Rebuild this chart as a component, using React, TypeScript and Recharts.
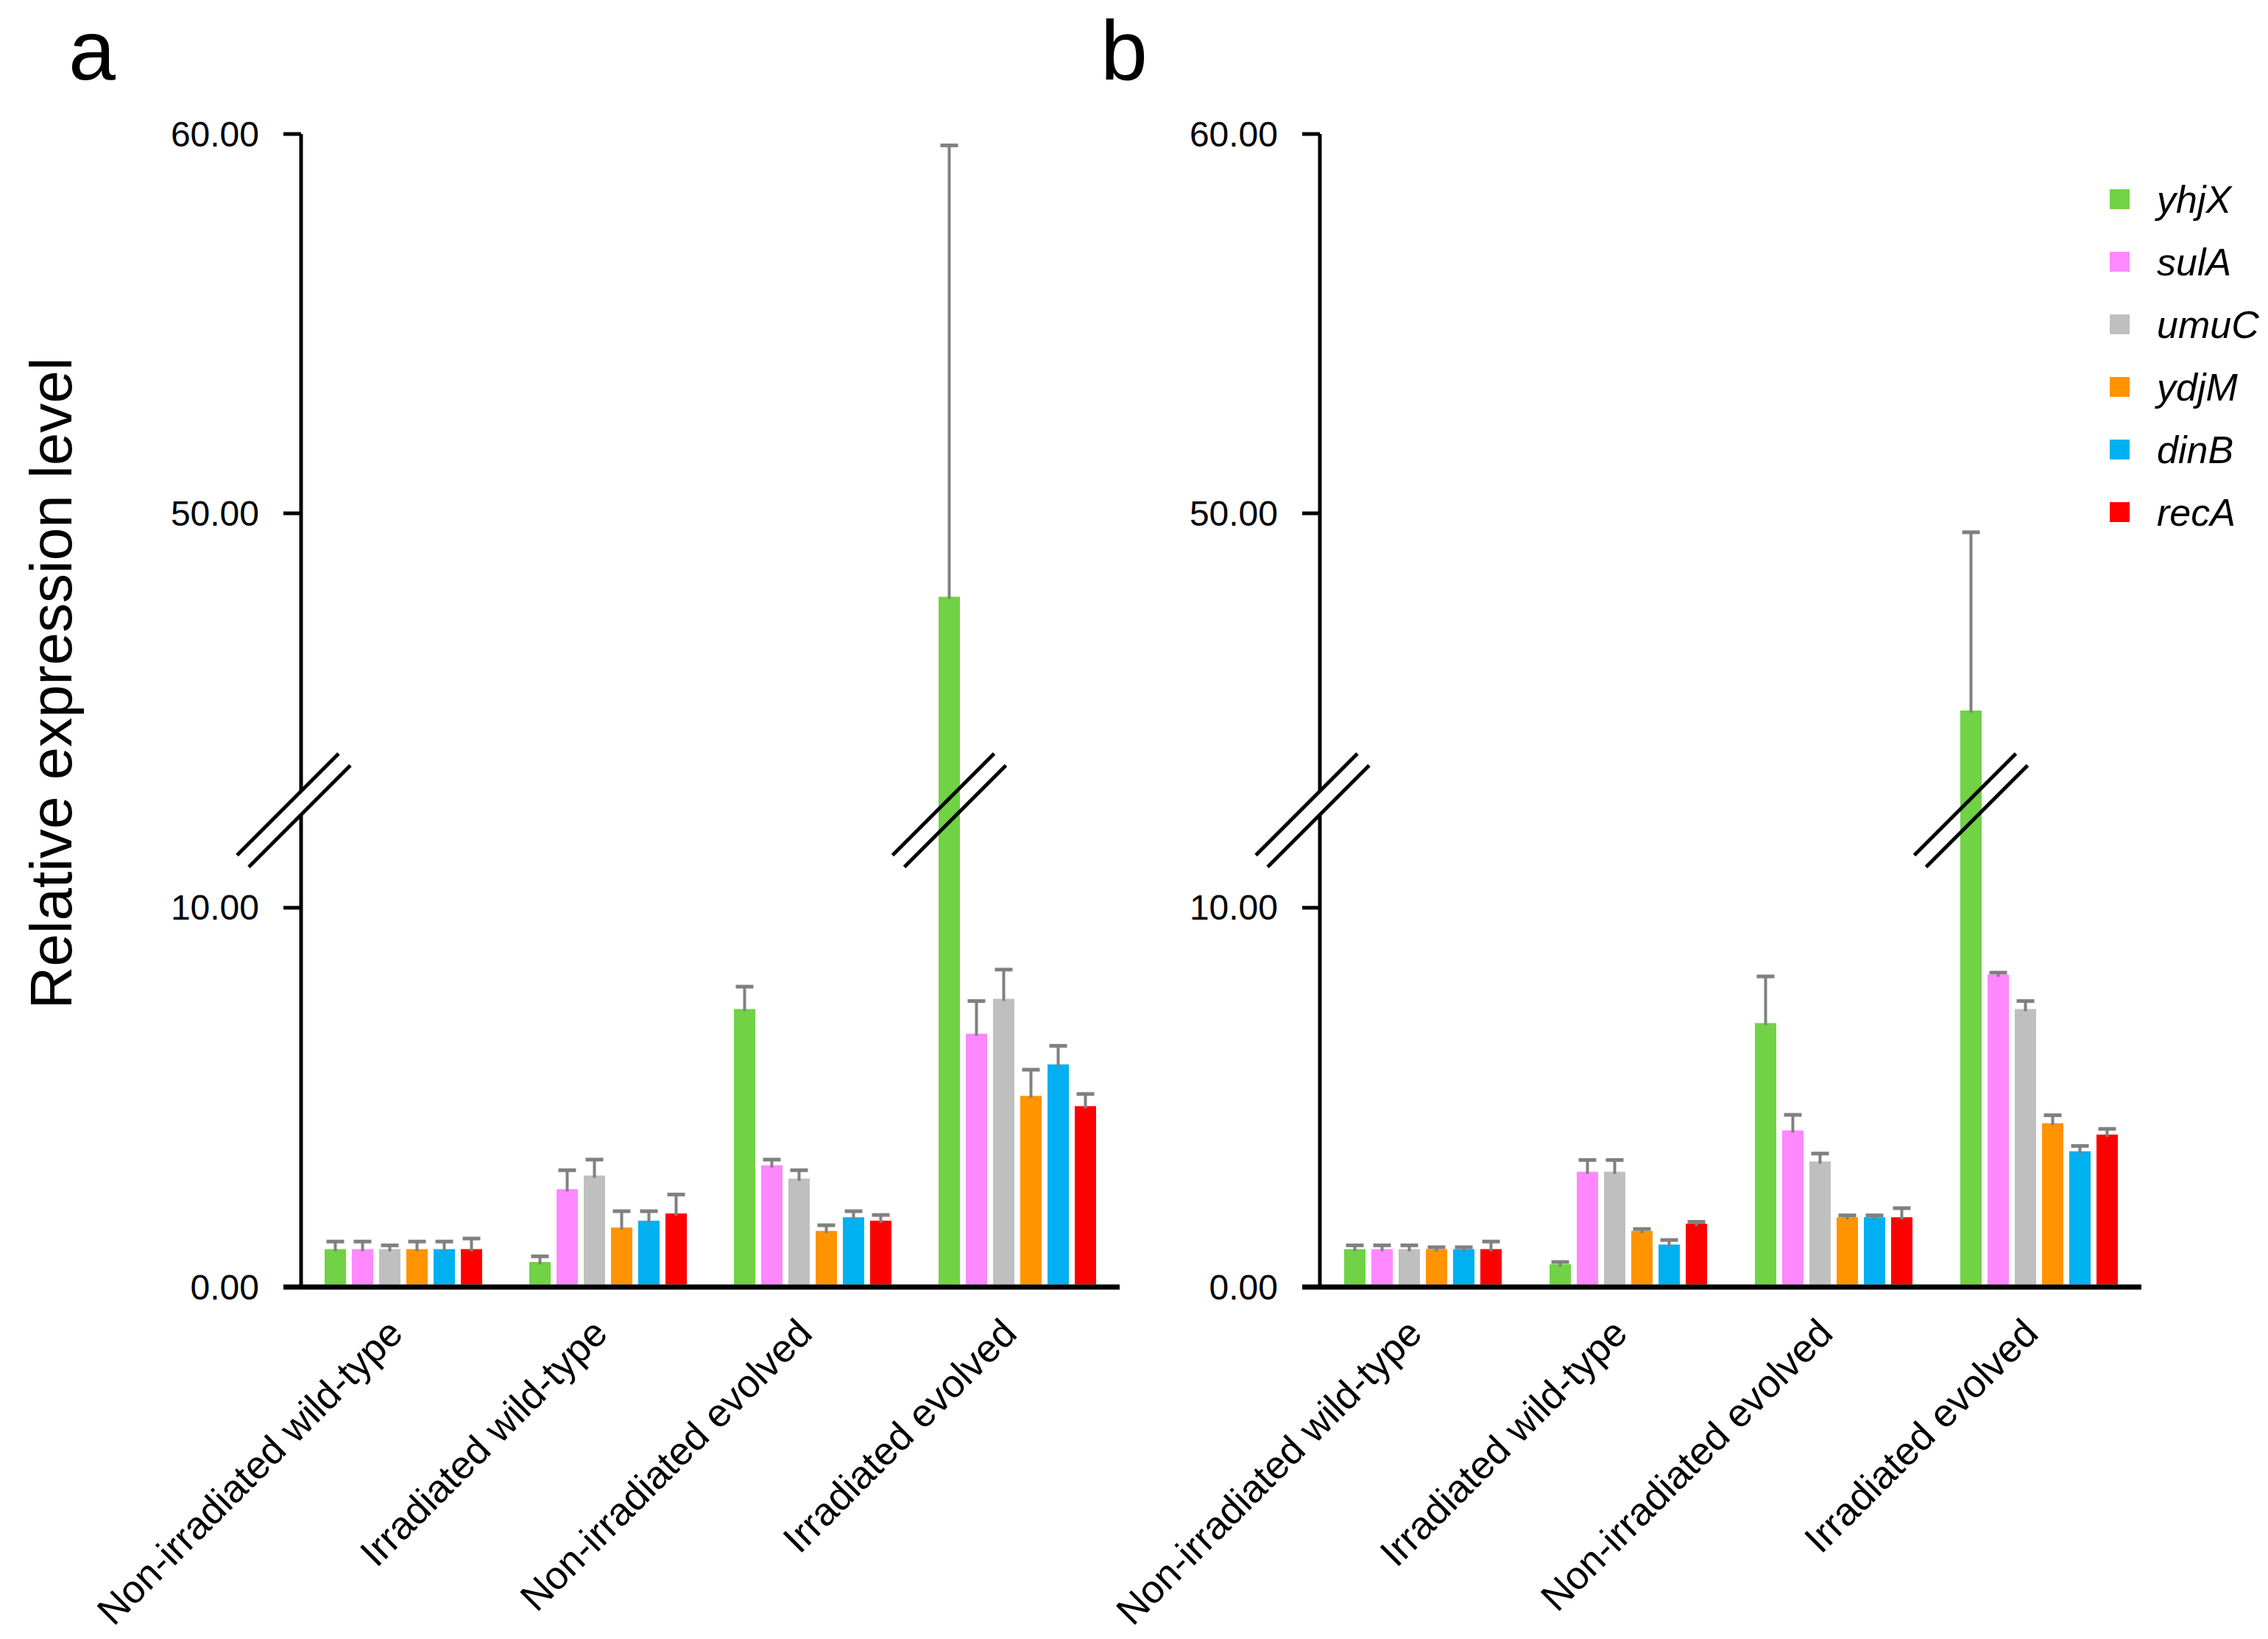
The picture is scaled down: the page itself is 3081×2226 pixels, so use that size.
import React from 'react';
import { BarChart, Bar, XAxis, YAxis, Legend } from 'recharts';

const GROUPS = ['Non-irradiated wild-type', 'Irradiated wild-type', 'Non-irradiated evolved', 'Irradiated evolved'];
const GENES = ['yhjX', 'sulA', 'umuC', 'ydjM', 'dinB', 'recA'];
const GENE_COLORS = ['#70D244', '#FF88FF', '#BFBFBF', '#FF9400', '#00B0F0', '#FF0000'];
const Y_TICKS = [0, 10, 50, 60];
const PANEL_LETTERS = ['a', 'b'];

// panel a – mean per group, then upper error
const A_YHJX = [1.0, 0.66, 7.33, 47.8];
const A_YHJX_ERR = [0.2, 0.15, 0.59, 11.9];
const A_SULA = [1.0, 2.58, 3.21, 6.68];
const A_SULA_ERR = [0.2, 0.5, 0.15, 0.86];
const A_UMUC = [1.0, 2.94, 2.86, 7.6];
const A_UMUC_ERR = [0.1, 0.42, 0.22, 0.77];
const A_YDJM = [1.0, 1.57, 1.48, 5.04];
const A_YDJM_ERR = [0.2, 0.43, 0.15, 0.69];
const A_DINB = [1.0, 1.75, 1.84, 5.87];
const A_DINB_ERR = [0.2, 0.25, 0.16, 0.49];
const A_RECA = [1.0, 1.94, 1.75, 4.77];
const A_RECA_ERR = [0.28, 0.5, 0.15, 0.32];

// panel b
const B_YHJX = [1.0, 0.6, 6.96, 44.8];
const B_YHJX_ERR = [0.1, 0.06, 1.23, 4.7];
const B_SULA = [1.0, 3.04, 4.13, 8.24];
const B_SULA_ERR = [0.1, 0.31, 0.41, 0.05];
const B_UMUC = [1.0, 3.04, 3.31, 7.33];
const B_UMUC_ERR = [0.1, 0.31, 0.21, 0.21];
const B_YDJM = [1.0, 1.48, 1.84, 4.32];
const B_YDJM_ERR = [0.05, 0.05, 0.05, 0.21];
const B_DINB = [1.0, 1.12, 1.84, 3.58];
const B_DINB_ERR = [0.05, 0.12, 0.05, 0.14];
const B_RECA = [1.0, 1.67, 1.84, 4.02];
const B_RECA_ERR = [0.2, 0.05, 0.24, 0.15];

const FONT = 'Arial, "Liberation Sans", sans-serif';
const ERR_COLOR = '#808080';

// broken axis: lower part 0..LOW_CUT, upper part HIGH_CUT..60, same unit size
const LOW_CUT = 12.57;
const HIGH_CUT = 42.17;
const toAxis = (v: number) => {
    if (v <= LOW_CUT) return v;
    if (v >= HIGH_CUT) return LOW_CUT + (v - HIGH_CUT);
    return LOW_CUT;
};
const BREAK_U = LOW_CUT;
const AXIS_MAX = toAxis(60);

const buildRows = (means: number[][], errs: number[][]) =>
    GROUPS.map((group, i) => {
        const row: any = { group };
        GENES.forEach((gene, g) => {
            row[gene] = toAxis(means[g][i]);
            row[gene + '_v'] = means[g][i];
            row[gene + '_e'] = errs[g][i];
        });
        return row;
    });

const rowsA = buildRows(
    [A_YHJX, A_SULA, A_UMUC, A_YDJM, A_DINB, A_RECA],
    [A_YHJX_ERR, A_SULA_ERR, A_UMUC_ERR, A_YDJM_ERR, A_DINB_ERR, A_RECA_ERR]
);
const rowsB = buildRows(
    [B_YHJX, B_SULA, B_UMUC, B_YDJM, B_DINB, B_RECA],
    [B_YHJX_ERR, B_SULA_ERR, B_UMUC_ERR, B_YDJM_ERR, B_DINB_ERR, B_RECA_ERR]
);

const BreakMark = ({ cx, cy, blank }: any) => {
    const d = 69;
    const a = { x: cx - 8, y: cy - 8 };
    const b = { x: cx + 8, y: cy + 8 };
    return (
        <g>
            {blank && (
                <polygon
                    points={`${a.x - d},${a.y + d} ${a.x + d},${a.y - d} ${b.x + d},${b.y - d} ${b.x - d},${b.y + d}`}
                    fill="#fff"
                />
            )}
            <line x1={a.x - d} y1={a.y + d} x2={a.x + d} y2={a.y - d} stroke="#000" strokeWidth={5} />
            <line x1={b.x - d} y1={b.y + d} x2={b.x + d} y2={b.y - d} stroke="#000" strokeWidth={5} />
        </g>
    );
};

const makeBarShape = (gene: string) => (p: any) => {
    const { x, y, width, height, fill, payload } = p;
    const v = payload[gene + '_v'];
    const e = payload[gene + '_e'];
    const uv = toAxis(v);
    const k = height / uv;
    const errPx = (toAxis(v + e) - uv) * k;
    const cx = x + width / 2;
    const top = y - errPx;
    return (
        <g>
            <rect x={x} y={y} width={width} height={Math.max(0, height - 3.5)} fill={fill} />
            <line x1={cx} x2={cx} y1={y + 3} y2={top} stroke={ERR_COLOR} strokeWidth={4} />
            <line x1={cx - 12} x2={cx + 12} y1={top} y2={top} stroke={ERR_COLOR} strokeWidth={5} />
            {uv > BREAK_U && <BreakMark cx={cx} cy={y + height - BREAK_U * k} />}
        </g>
    );
};

const Y_TICK_POS = Y_TICKS.map(toAxis);

const YTick = (p: any) => {
    const { x, y, payload } = p;
    if (Math.abs(payload.value - BREAK_U) < 1e-6) return <BreakMark cx={x - 10} cy={y} blank />;
    const idx = Y_TICK_POS.findIndex((t) => Math.abs(t - payload.value) < 1e-6);
    const label = Y_TICKS[idx];
    return (
        <g>
            <line x1={x - 24} x2={x} y1={y} y2={y} stroke="#000" strokeWidth={label === 0 ? 7 : 5} />
            <text x={x - 57} y={y} textAnchor="end" dominantBaseline="central" fontSize={48} fontFamily={FONT} fill="#000">
                {label.toFixed(2)}
            </text>
        </g>
    );
};

const XTick = (p: any) => {
    const { x, y, payload } = p;
    const ax = x + 2;
    const ay = y + 66;
    return (
        <text
            x={ax}
            y={ay}
            transform={`rotate(-45 ${ax} ${ay})`}
            textAnchor="end"
            fontSize={53}
            fontFamily={FONT}
            fill="#000"
        >
            {payload.value}
        </text>
    );
};

const AxisTitle = ({ viewBox }: any) => {
    const tx = viewBox.x + 69;
    const ty = viewBox.y + viewBox.height / 2 - 37;
    return (
        <text
            x={tx}
            y={ty}
            transform={`rotate(-90 ${tx} ${ty})`}
            textAnchor="middle"
            dominantBaseline="central"
            fontSize={80}
            fontFamily={FONT}
            fill="#000"
        >
            Relative expression level
        </text>
    );
};

const GeneLegend = ({ payload }: any) => {
    const items = [...(payload || [])].sort((p, q) => GENES.indexOf(p.value) - GENES.indexOf(q.value));
    return (
        <div>
            {items.map((item: any) => (
                <div key={item.value} style={{ display: 'flex', alignItems: 'center', height: 85 }}>
                    <span style={{ width: 27, height: 27, background: item.color, marginRight: 37, flex: 'none' }} />
                    <span style={{ fontStyle: 'italic', fontSize: 52, fontFamily: FONT, color: '#000', lineHeight: 1 }}>
                        {item.value}
                    </span>
                </div>
            ))}
        </div>
    );
};

const Panel = ({ rows, width, right, withTitle, legendLeft }: any) => (
    <BarChart
        width={width}
        height={2226}
        data={rows}
        margin={{ top: 182, right, bottom: 0, left: 0 }}
        barSize={29}
        barGap={8}
    >
        <XAxis
            dataKey="group"
            height={478}
            tickSize={0}
            tickMargin={0}
            tickLine={false}
            axisLine={{ stroke: '#000', strokeWidth: 7 }}
            tick={<XTick />}
            interval={0}
        />
        <YAxis
            type="number"
            width={409}
            domain={[0, AXIS_MAX]}
            ticks={[Y_TICK_POS[0], Y_TICK_POS[1], BREAK_U, Y_TICK_POS[2], Y_TICK_POS[3]]}
            interval={0}
            tickSize={0}
            tickMargin={0}
            tickLine={false}
            axisLine={{ stroke: '#000', strokeWidth: 5 }}
            tick={<YTick />}
            label={withTitle ? <AxisTitle /> : undefined}
        />
        {legendLeft !== undefined && (
            <Legend
                layout="vertical"
                align="center"
                verticalAlign="middle"
                content={<GeneLegend />}
                wrapperStyle={{ left: legendLeft, top: 228, width: 215, right: 'auto', bottom: 'auto' }}
            />
        )}
        {GENES.map((gene, i) => (
            <Bar
                key={gene}
                dataKey={gene}
                name={gene}
                fill={GENE_COLORS[i]}
                legendType="square"
                shape={makeBarShape(gene)}
                isAnimationActive={false}
            />
        ))}
    </BarChart>
);

export default function App() {
    return (
        <div
            style={{
                position: 'absolute',
                left: 0,
                top: 0,
                width: 3081,
                height: 2226,
                background: '#fff',
                overflow: 'hidden',
            }}
        >
            <div style={{ position: 'absolute', left: 0, top: 0 }}>
                <Panel rows={rowsA} width={1560} right={39} withTitle />
            </div>
            <div style={{ position: 'absolute', left: 1384, top: 0 }}>
                <Panel rows={rowsB} width={1697} right={172} legendLeft={1482} />
            </div>
            <svg
                width={3081}
                height={160}
                style={{ position: 'absolute', left: 0, top: 0, pointerEvents: 'none' }}
            >
                {PANEL_LETTERS.map((l, i) => (
                    <text key={l} x={i === 0 ? 93 : 1495} y={108} fontSize={115} fontFamily={FONT} fill="#000">
                        {l}
                    </text>
                ))}
            </svg>
        </div>
    );
}
